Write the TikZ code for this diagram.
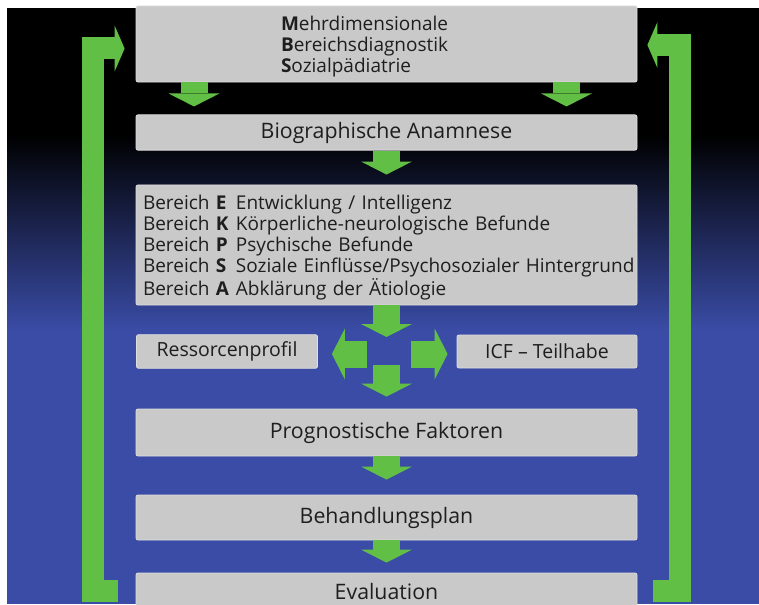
\documentclass[tikz,border=0pt]{standalone}
\usepackage{fontspec}
\setmainfont{Open Sans}
\usetikzlibrary{arrows.meta, positioning}
\definecolor{boxfill}{HTML}{C9C9C9}
\definecolor{boxline}{HTML}{DDDDDD}
\definecolor{txtdark}{HTML}{1E1E1E}
\definecolor{arrgreen}{HTML}{62BF46}
\definecolor{bgnavy}{HTML}{1D2068}
\definecolor{bgblue}{HTML}{3A4CA6}
\tikzset{
  graybox/.style = {draw=boxline, fill=boxfill, rounded corners=2pt, line width=0.8pt,
                    text=txtdark, font=\fontsize{21.3}{23}\selectfont,
                    minimum width=501pt, inner sep=7pt},
  listbox/.style = {graybox, font=\fontsize{19}{20.7}\selectfont,
                    text width=487pt, align=left},
  sidebox/.style = {graybox, font=\fontsize{19.5}{21}\selectfont,
                    minimum width=181pt, minimum height=33pt},
  flow/.style    = {draw=arrgreen, line width=27pt,
                    -{Triangle[width=51pt, length=13pt, line width=0pt]}},
  ret/.style     = {draw=arrgreen, line width=22pt,
                    -{Triangle[width=46pt, length=10pt, line width=0pt]}}
}

\begin{document}
\begin{tikzpicture}[x=1pt, y=-1pt]
  \useasboundingbox (0,0) rectangle (759,604);
  % background
  \fill[black] (7,8) rectangle (759,136);
  \shade[top color=black, middle color=bgnavy, bottom color=bgblue]
       (7,135) rectangle (759,331);
  \fill[bgblue] (7,330) rectangle (759,604);

  \node[listbox, minimum height=72pt] (mbs) at (386.5,44)
       {\hspace*{138pt}\raisebox{-3.5pt}[\height][\depth]{\begin{tabular}{@{}l@{}}
          \textbf{M}ehrdimensionale\\
          \textbf{B}ereichsdiagnostik\\
          \textbf{S}ozialpädiatrie
        \end{tabular}}};
  \node[graybox, minimum height=35pt] (bio) at (386.5,132.5) {Biographische Anamnese};
  \node[listbox, minimum height=116pt] (ber) at (386.5,245)
       {\raisebox{-3.5pt}[\height][\depth]{\begin{tabular}{@{}l@{\hspace{7pt}}l@{}}
          Bereich \textbf{E} & Entwicklung / Intelligenz\\
          Bereich \textbf{K} & Körperliche-neurologische Befunde\\
          Bereich \textbf{P} & Psychische Befunde\\
          Bereich \textbf{S} & Soziale Einflüsse/Psychosozialer Hintergrund\\
          Bereich \textbf{A} & Abklärung der Ätiologie
        \end{tabular}}};
  \node[sidebox] (res) at (227,351.5) {Ressorcenprofil};
  \node[sidebox, minimum width=180pt] (icf) at (547,351.5) {ICF -- Teilhabe};
  \coordinate (hub) at (386.5,354);
  \node[graybox, minimum height=47pt] (prog) at (386.5,432.5) {Prognostische Faktoren};
  \node[graybox, minimum height=45pt] (plan) at (386.5,517.5) {Behandlungsplan};
  \node[graybox, minimum height=38pt] (eval) at (386.5,592) {Evaluation};

  % downward flow
  \draw[flow, shorten >=8pt] ([xshift=-192.5pt]mbs.south) -- ([xshift=-192.5pt]bio.north);
  \draw[flow, shorten >=8pt] ([xshift=180pt]mbs.south) -- ([xshift=180pt]bio.north);
  \draw[flow, shorten >=10pt] (bio) -- (ber);
  \draw[flow, shorten >=17pt] (ber) -- (hub);
  \draw[flow, shorten <=20pt, shorten >=14pt] (hub) -- (hub -| res.east);
  \draw[flow, shorten <=24pt, shorten >=9pt] (hub) -- (hub -| icf.west);
  \draw[flow, shorten <=11pt, shorten >=12pt] (hub) -- (hub |- prog.north);
  \draw[flow, shorten >=15pt] (prog) -- (plan);
  \draw[flow, shorten >=10pt] (plan) -- (eval);

  % feedback loops
  \coordinate (lfoot) at (118,591);
  \coordinate (lbend) at (92.5,48.5);
  \draw[ret, shorten >=11pt] (lfoot) -| (lbend) -- (lbend -| mbs.west);
  \coordinate (rfoot) at (653,591);
  \coordinate (rbend) at (680,45);
  \draw[ret, shorten >=10pt] (rfoot) -| (rbend) -- (rbend -| mbs.east);
\end{tikzpicture}
\end{document}
